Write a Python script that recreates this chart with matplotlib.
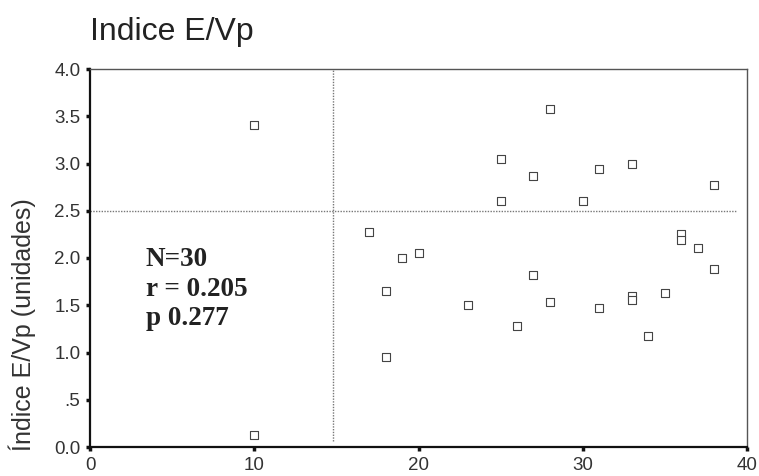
import matplotlib
matplotlib.use("Agg")
import matplotlib.pyplot as plt

# Paired observations (x, Índice E/Vp)
x_vals = [10, 10, 17, 18, 18, 19, 20, 23, 25, 25, 26, 27, 27, 28, 28,
          30, 31, 31, 33, 33, 33, 34, 35, 36, 36, 37, 38, 38]
y_vals = [3.41, 0.13, 2.27, 1.65, 0.95, 2.00, 2.05, 1.50, 3.05, 2.60, 1.28, 2.87, 1.82, 3.58, 1.53,
          2.60, 2.94, 1.47, 3.00, 1.60, 1.56, 1.17, 1.63, 2.25, 2.19, 2.11, 2.77, 1.88]

x_ticks = [0, 10, 20, 30, 40]
y_ticks = [0.0, 0.5, 1.0, 1.5, 2.0, 2.5, 3.0, 3.5, 4.0]
y_tick_labels = ["0.0", ".5", "1.0", "1.5", "2.0", "2.5", "3.0", "3.5", "4.0"]

x_ref = 14.8
y_ref = 2.5
stats_lines = ["N=30", "r = 0.205", "p 0.277"]

plt.rcParams["font.family"] = ["Liberation Sans", "DejaVu Sans"]

fig = plt.figure(figsize=(7.59, 4.76), dpi=100)
ax = fig.add_axes([90 / 759, 29 / 476, 657 / 759, 378 / 476])

ax.scatter(x_vals, y_vals, marker="s", s=26, facecolors="white",
           edgecolors="#444444", linewidths=0.8, zorder=3)

ax.axvline(x_ref, ymin=0.015, ymax=1.0, color="#777777", linestyle=(0, (1, 1)), linewidth=1.0)
ax.axhline(y_ref, xmin=0.0, xmax=0.985, color="#777777", linestyle=(0, (1, 1)), linewidth=1.0)

ax.set_xlim(0, 40)
ax.set_ylim(0, 4.0)
ax.set_xticks(x_ticks)
ax.set_yticks(y_ticks)
ax.set_yticklabels(y_tick_labels)
ax.tick_params(axis="both", direction="out", length=3, width=2.5, color="#111111",
               labelsize=13.5, labelcolor="#333333", pad=4)

for side in ("left", "bottom"):
    ax.spines[side].set_linewidth(1.6)
    ax.spines[side].set_color("#111111")
for side in ("top", "right"):
    ax.spines[side].set_linewidth(1.0)
    ax.spines[side].set_color("#555555")

ax.set_ylabel("Índice E/Vp (unidades)", fontsize=18, color="#333333", va="center")
ax.yaxis.set_label_coords(-0.1035, 0.323)

fig.text(90 / 759, 1 - 40 / 476, "Indice E/Vp", fontsize=23, color="#222222",
         ha="left", va="baseline")

# statistics block, one line at a time, positioned by baseline
for i, line in enumerate(stats_lines):
    fig.text(146 / 759, 1 - (266 + 29.5 * i) / 476, line, fontsize=19.5, fontweight="bold",
             family="Liberation Serif", color="#222222", ha="left", va="baseline")

fig.savefig("out.png", dpi=100)
